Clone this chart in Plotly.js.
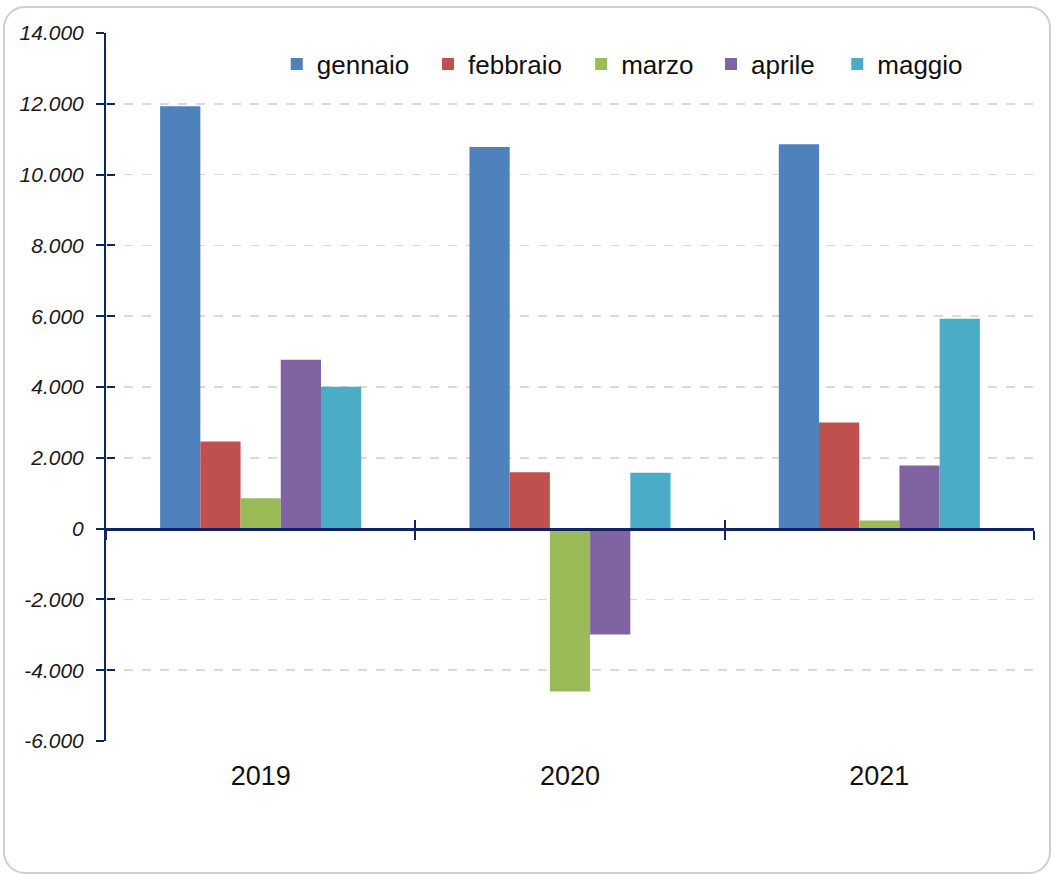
<!DOCTYPE html>
<html>
<head>
<meta charset="utf-8">
<script src="https://cdn.plot.ly/plotly-3.0.1.min.js"></script>
<style>
  html, body { margin: 0; padding: 0; background: #ffffff; }
  #frame {
    position: absolute; left: 3px; top: 6px;
    width: 1044px; height: 864px;
    border: 2px solid #cfcfcf; border-radius: 22px;
    overflow: hidden; background: #ffffff;
  }
  #chart { width: 1044px; height: 864px; }
</style>
</head>
<body>
<div id="frame"><div id="chart"></div></div>
<script>
// ---- data ----
const years = ['2019', '2020', '2021'];
const months = ['gennaio', 'febbraio', 'marzo', 'aprile', 'maggio'];
const gennaio  = [11930, 10780, 10860];
const febbraio = [2460, 1590, 3000];
const marzo    = [860, -4600, 230];
const aprile   = [4770, -2990, 1780];
const maggio   = [4010, 1580, 5930];
const yTickVals = [-6000, -4000, -2000, 0, 2000, 4000, 6000, 8000, 10000, 12000, 14000];
const yTickText = ['-6.000', '-4.000', '-2.000', '0', '2.000', '4.000', '6.000', '8.000', '10.000', '12.000', '14.000'];

// ---- style ----
const series = [gennaio, febbraio, marzo, aprile, maggio];
const colors = ['#4F81BD', '#C0504D', '#9BBB59', '#8064A2', '#4BACC6'];
const FONT = '"Liberation Sans Narrow", "Arial Narrow", "Liberation Sans", Arial, sans-serif';
const NAVY = '#0F2463';
const legendIds = ['legend', 'legend2', 'legend3', 'legend4', 'legend5'];
const legendX = [0.184, 0.347, 0.512, 0.652, 0.788];

const traces = series.map((vals, i) => ({
  type: 'bar',
  name: months[i],
  x: years,
  y: vals,
  marker: { color: colors[i], line: { width: 0 } },
  legend: legendIds[i],
  hoverinfo: 'x+y+name'
}));

// invisible helper traces so the overlay axes (crossing tick marks) get drawn
traces.push({
  type: 'scatter', mode: 'none', x: years, y: gennaio,
  xaxis: 'x2', yaxis: 'y2', showlegend: false, hoverinfo: 'skip'
});
traces.push({
  type: 'scatter', mode: 'none', x: years, y: gennaio,
  xaxis: 'x3', yaxis: 'y2', showlegend: false, hoverinfo: 'skip'
});

const layout = {
  width: 1044, height: 864,
  margin: { l: 101, r: 15, t: 25, b: 131 },
  paper_bgcolor: 'rgba(0,0,0,0)',
  plot_bgcolor: 'rgba(0,0,0,0)',
  barmode: 'group',
  bargap: 0.35,
  bargroupgap: 0,
  font: { family: FONT, color: '#111111' },
  showlegend: true,
  xaxis: {
    type: 'category',
    categoryarray: years,
    range: [-0.5, 2.5],
    showline: false, ticks: '', showgrid: false, zeroline: false,
    tickfont: { family: FONT, size: 27, color: '#111111' },
    ticklabelstandoff: 16
  },
  xaxis2: {
    overlaying: 'x', anchor: 'free', position: 0.3,
    type: 'category', categoryarray: years, range: [-0.5, 2.5],
    tickson: 'boundaries',
    ticks: 'outside', ticklen: 9, tickwidth: 2, tickcolor: NAVY,
    showline: true, linecolor: NAVY, linewidth: 3,
    showticklabels: false, showgrid: false, zeroline: false
  },
  xaxis3: {
    overlaying: 'x', anchor: 'free', position: 0.3,
    type: 'category', categoryarray: years, range: [-0.5, 2.5],
    tickson: 'boundaries',
    ticks: 'inside', ticklen: 9, tickwidth: 2, tickcolor: NAVY,
    showline: false, showticklabels: false, showgrid: false, zeroline: false
  },
  yaxis: {
    domain: [0, 1],
    range: [-6000, 14000],
    tickmode: 'array', tickvals: yTickVals, ticktext: yTickText,
    ticks: 'outside', ticklen: 8, tickwidth: 2, tickcolor: NAVY,
    showline: true, linecolor: NAVY, linewidth: 2,
    showgrid: true, gridcolor: '#d9d9d9', gridwidth: 1.5, griddash: 'dash',
    zeroline: false,
    tickfont: { family: FONT, size: 21, color: '#1a1a1a', style: 'italic' },
    ticklabelstandoff: 8
  },
  yaxis2: {
    overlaying: 'y', anchor: 'free', position: 0,
    range: [-6000, 14000],
    tickmode: 'array', tickvals: yTickVals,
    ticks: 'inside', ticklen: 8, tickwidth: 2, tickcolor: NAVY,
    showline: false, showticklabels: false, showgrid: false, zeroline: false
  }
};

legendIds.forEach((id, i) => {
  layout[id] = {
    orientation: 'h',
    x: legendX[i], xanchor: 'left',
    y: 0.956, yanchor: 'middle',
    bgcolor: 'rgba(0,0,0,0)', borderwidth: 0,
    font: { family: FONT, size: 26, color: '#111111' }
  };
});

Plotly.newPlot('chart', traces, layout, { displayModeBar: false, staticPlot: true });
</script>
</body>
</html>
